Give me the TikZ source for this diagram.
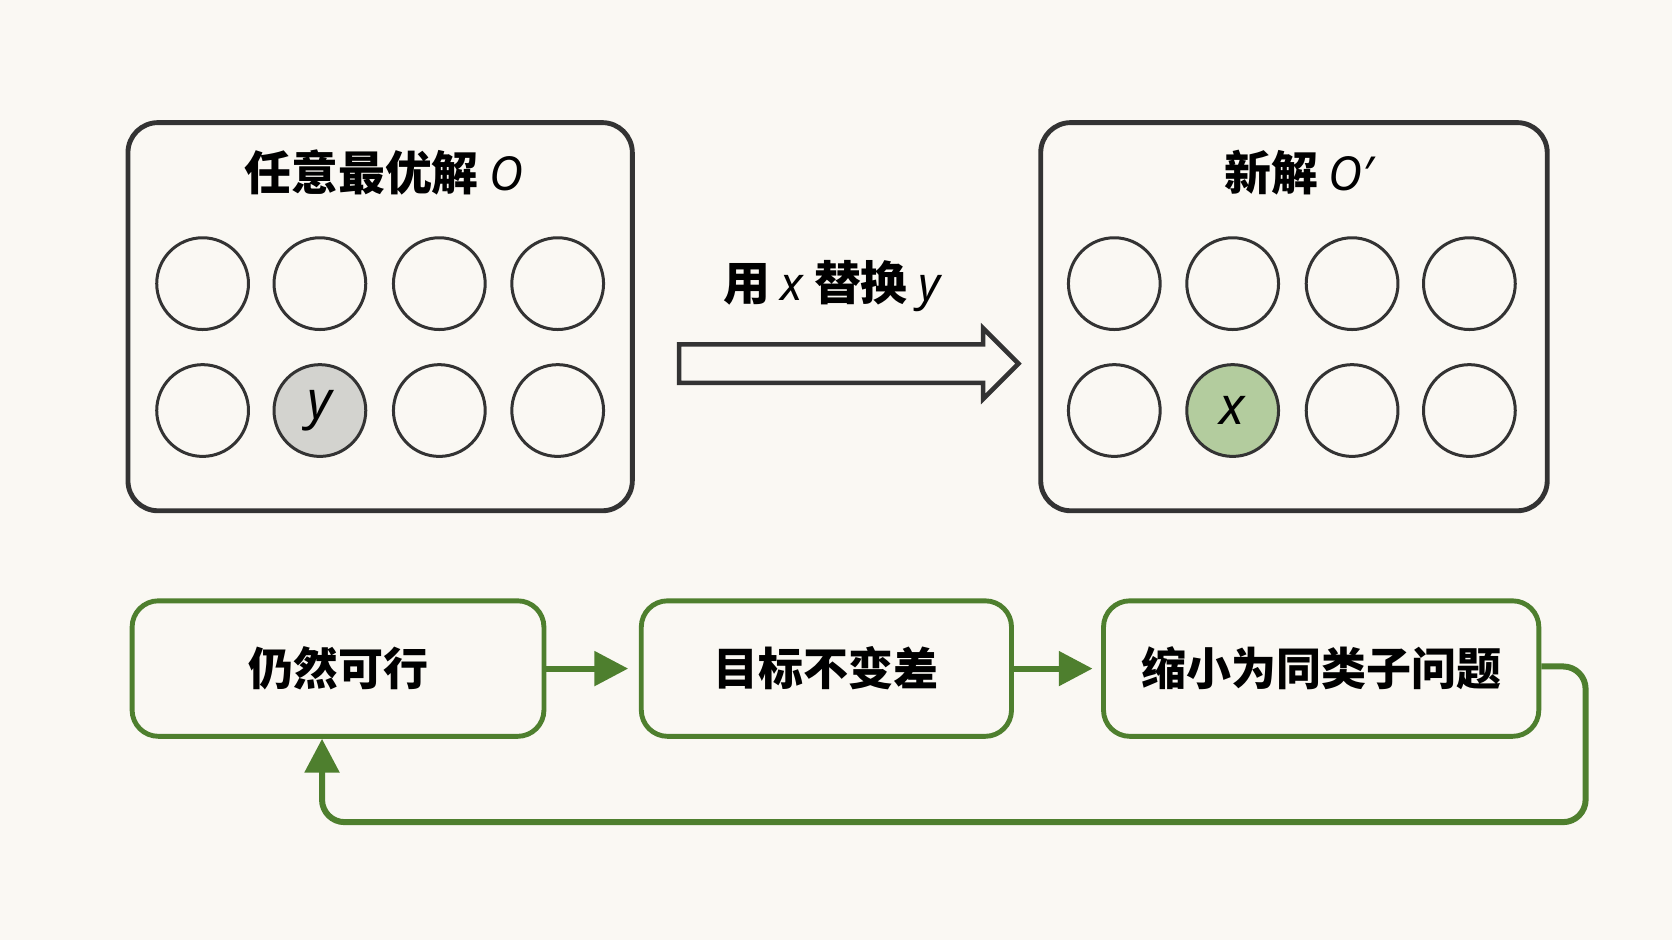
\documentclass[tikz,border=0pt]{standalone}
\usepackage{fontspec}
\setmainfont{Noto Sans}
\newfontfamily\cjk{Noto Sans CJK SC}
\usetikzlibrary{shapes.arrows,arrows.meta}
\definecolor{bgcol}{HTML}{FAF8F3}
\definecolor{leaf}{HTML}{4E7F2E}
\definecolor{leaffill}{HTML}{B3CC9E}
\definecolor{greyfill}{HTML}{D3D3CF}
\definecolor{ink}{HTML}{333333}
\newcommand{\mathvar}[1]{{\rmfamily\itshape\bfseries #1}}

\begin{document}
\begin{tikzpicture}[x=0.01cm,y=-0.01cm]
    \tikzstyle{panel}=[draw=ink,line width=1.3pt,rounded corners=8pt,fill=none]
    \tikzstyle{slot}=[circle,draw=ink,line width=0.8pt,minimum size=0.86cm,inner sep=0pt,font=\fontsize{14}{14}\selectfont\itshape]
    \tikzstyle{title}=[font=\cjk\bfseries\fontsize{12.5}{14}\selectfont]
    \tikzstyle{stage}=[draw=leaf,line width=1.3pt,rounded corners=7pt,minimum height=1.27cm,font=\cjk\bfseries\fontsize{12}{14}\selectfont]
    \tikzstyle{flow}=[leaf,line width=1.6pt,-{Triangle[length=9pt,width=9pt]}]

    \fill[bgcol] (0,0) rectangle (1568,882);

    % left panel
    \draw[panel] (120,115) rectangle (593,479);
    \node[title] (oldtitle) at (360,162) {任意最优解 \mathvar{O}};
    \foreach \x/\i in {190/1,300/2,412/3,523/4} {
      \node[slot] (oa\i) at (\x,266) {};
    }
    \foreach \x/\i in {190/1,412/3,523/4} {
      \node[slot] (ob\i) at (\x,385) {};
    }
    \node[slot,fill=greyfill] (ob2) at (300,385) {y};

    % right panel
    \draw[panel] (976,115) rectangle (1451,479);
    \node[title] (newtitle) at (1218,162) {新解 \mathvar{O′}};
    \foreach \x/\i in {1045/1,1156/2,1268/3,1378/4} {
      \node[slot] (na\i) at (\x,266) {};
    }
    \foreach \x/\i in {1045/1,1268/3,1378/4} {
      \node[slot] (nb\i) at (\x,385) {};
    }
    \node[slot,fill=leaffill] (nb2) at (1156,385) {x};

    % replacement arrow
    \node[single arrow,draw=ink,line width=1.2pt,fill=none,minimum width=0.62cm,
      single arrow head extend=0.15cm,single arrow head indent=0pt,minimum height=3.18cm,
      inner xsep=0pt,inner ysep=0.16cm] (swap) at (787,341) {};
    \node[title] (swaplabel) at (780,268) {用 \mathvar{x} 替换 \mathvar{y}};

    % argument chain
    \node[stage,minimum width=3.86cm] (feasible) at (317,627) {仍然可行};
    \node[stage,minimum width=3.47cm] (same) at (775,627) {目标不变差};
    \node[stage,minimum width=4.08cm] (smaller) at (1239,627) {缩小为同类子问题};
    \coordinate (loopa) at (1487,625);
    \coordinate (loopb) at (1487,771);
    \coordinate (loopc) at (302,771);

    \draw[flow] (feasible.east) -- ([xshift=-0.1cm]same.west);
    \draw[flow] (same.east) -- ([xshift=-0.08cm]smaller.west);
    \draw[flow,rounded corners=6pt] (smaller.east|-loopa) -- (loopa) -- (loopb) -- (loopc) -- (loopc|-feasible.south);
\end{tikzpicture}
\end{document}
